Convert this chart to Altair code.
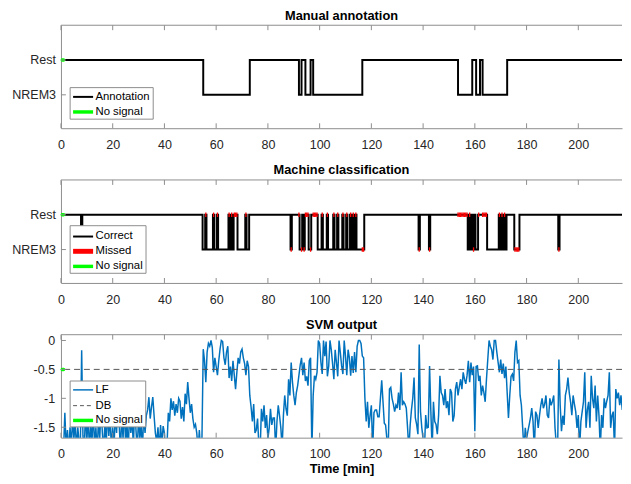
import math
import altair as alt
import pandas as pd

# ------------------------------------------------------------------ data
x_ticks = [0, 20, 40, 60, 80, 100, 120, 140, 160, 180, 200]
state_codes = [0, 1]
state_labels = ["NREM3", "Rest"]
svm_ticks = [-1.5, -1.0, -0.5, 0.0]
panel_titles = ["Manual annotation", "Machine classification", "SVM output"]
x_title = "Time [min]"

# manual annotation: change points (min) and state (1 = Rest, 0 = NREM3)
annotation_change_min = [0.0, 55.0, 73.0, 92.0, 93.0, 94.5, 96.5, 97.5, 116.5,
                         153.5, 159.0, 160.5, 162.0, 163.0, 172.5]
annotation_change_state = [1, 0, 1, 0, 1, 0, 1, 0, 1, 0, 1, 0, 1, 0, 1]

# SVM output (LF), one value per 30 s epoch starting at 0.5 min
svm_lf = [
    float("nan"), -1.9, -1.25, -1.85, -1.55, -1.95, -1.5, -1.8, -1.35, -1.7,
    -1.4, -1.9, -1.5, -1.75, -1.8, -0.17, -1.65, -1.9, -1.2, -1.75,
    -1.3, -1.9, -1.45, -1.75, -1.2, -1.85, -1.5, -1.95, -1.35, -1.7,
    -1.1, -1.6, -1.9, -1.4, -1.8, -1.2, -1.65, -1.3, -1.9, -1.5,
    -1.85, -1.25, -1.6, -1.0, -1.45, -1.9, -1.3, -1.7, -1.15, -1.8,
    -1.4, -1.95, -1.2, -1.6, -1.35, -1.85, -1.1, -1.55, -1.9, -1.3,
    -1.7, -1.45, -1.9, -1.25, -1.6, -1.3, -1.2, -0.98, -1.35, -1.15,
    -0.98, -1.3, -1.6, -1.75, -1.5, -1.9, -1.46, -1.8, -1.48, -1.6,
    -1.95, -1.8, -1.25, -1.4, -1.0, -1.2, -1.05, -1.3, -1.1, -1.25,
    -1.0, -1.05, -1.35, -1.15, -1.4, -0.92, -1.1, -0.72, -1.0, -1.25,
    -1.1, -1.35, -1.5, -1.45, -1.6, -1.9, -1.55, -1.95, -1.7, -0.15,
    -0.35, -0.72, -0.2, -0.05, -0.1, 0.0, -0.12, -0.55, -0.3, -0.45,
    -0.6, -0.35, -0.15, 0.0, -0.02, -0.3, -0.42, -0.2, -0.1, -0.65,
    -0.45, -0.7, -0.35, -0.6, -0.84, -0.55, -0.3, -0.4, -0.2, -0.15,
    -0.3, -0.4, -0.6, -0.35, -0.45, -0.95, -1.15, -1.4, -1.1, -1.6,
    -1.55, -1.35, -1.8, -1.9, -1.18, -1.4, -1.12, -1.51, -1.29, -1.7,
    -1.51, -1.18, -1.46, -1.34, -1.34, -1.9, -1.4, -1.12, -1.3, -1.51,
    -1.85, -1.29, -0.95, -1.18, -1.3, -0.67, -0.95, -0.38, -0.72, -0.95,
    -1.12, -0.9, -0.78, -0.6, -0.42, -0.3, -0.6, -0.38, -0.7, -0.62,
    -0.78, -0.35, -0.3, -1.9, -0.95, -0.61, -0.67, -0.55, 0.0, -0.05,
    -0.38, -0.58, 0.0, -0.27, -0.02, -0.62, -0.45, 0.0, -0.16, -0.4,
    -0.67, -0.16, -0.38, -0.62, 0.0, -0.21, -0.44, -0.58, 0.0, -0.27,
    -0.6, -0.16, -0.3, -0.61, -0.27, -0.56, -0.2, -0.55, -0.1, 0.0,
    0.0, -0.05, -0.27, -0.3, -1.0, -1.4, -1.06, -1.51, -1.3, -1.12,
    -1.9, -1.25, -1.2, -1.2, -1.32, -1.32, -1.0, -0.69, -1.06, -1.43,
    -1.46, -1.7, -1.9, -0.84, -0.81, -1.0, -1.1, -1.23, -1.12, -1.17,
    -0.9, -1.2, -0.55, -1.12, -1.06, -1.1, -1.17, -1.51, -1.9, -1.46,
    -1.2, -1.0, -0.64, -1.34, -1.45, -1.62, -0.07, -1.23, -1.51, -1.7,
    -1.9, -1.29, -1.51, -1.5, -0.44, -1.23, -1.9, -1.06, -1.4, -1.45,
    -1.62, -1.29, -0.61, -0.9, -0.95, -1.12, -0.84, -1.17, -1.05, -1.29,
    -0.84, -0.9, -1.4, -1.3, -0.84, -0.72, -0.95, -0.8, -0.67, -0.84,
    -0.55, -0.67, -0.75, -0.6, -0.35, -0.72, -0.38, -0.6, -0.45, -1.57,
    -0.45, -0.44, -0.7, -0.61, -0.95, -0.78, -0.9, -1.06, -0.67, -0.33,
    0.0, -0.1, -0.16, -0.33, 0.0, 0.0, -0.2, -0.38, -0.55, -0.33,
    -0.58, -0.4, -0.65, -0.45, -0.9, -1.34, -0.95, -0.62, -0.58, -0.7,
    -0.2, 0.0, -0.38, -0.35, -0.95, -1.12, -1.51, -1.9, -1.51, -1.7,
    -1.57, -1.46, -1.34, -1.17, -1.4, -1.9, -1.23, -1.29, -1.51, -1.3,
    -1.12, -1.0, -1.17, -1.1, -0.95, -1.29, -1.34, -1.0, -1.12, -1.05,
    -0.95, -1.51, -1.8, -1.9, -0.33, -1.12, -1.57, -1.3, -1.46, -0.95,
    -0.84, -0.64, -0.9, -1.06, -1.29, -0.95, -1.1, -1.23, -1.51, -1.29,
    -1.9, -1.4, -1.23, -1.06, -0.55, -1.51, -1.2, -1.06, -1.51, -0.61,
    -1.0, -1.17, -0.78, -1.4, -0.95, -1.3, -1.9, -1.29, -1.51, -1.0,
    -1.17, -1.05, -0.95, -0.55, -1.51, -1.3, -1.23, -1.9, -0.84, -1.0,
    -0.9, -1.12, -0.95, -1.2,
]
EPOCH_MIN = 0.5
decision_boundary = [-0.5]
no_signal_min = [0.5, 1.0]

# ------------------------------------------------------------------ style
FONT = "Liberation Sans"
AXC = "#8c8c8c"
TXT = "#262626"
X_MAX = 216.9
W = 569.3
H = 104.5
TICK = 5

# ------------------------------------------------------------------ derived tables
epoch_t = [EPOCH_MIN * (i + 1) for i in range(len(svm_lf))]
svm_df = pd.DataFrame({"t": epoch_t, "v": svm_lf}).dropna()


def annotation_at(tt):
    s = annotation_change_state[0]
    for ct, cs in zip(annotation_change_min, annotation_change_state):
        if ct <= tt:
            s = cs
    return s


ann_df = pd.DataFrame({
    "t": annotation_change_min + [X_MAX + 1],
    "s": annotation_change_state + [annotation_change_state[-1]],
})

mach_t, mach_s, miss_t0, miss_t1, miss_s = [0.0], [1], [], [], []
for tt, v in zip(epoch_t, svm_lf):
    if isinstance(v, float) and math.isnan(v):
        s = 1
    else:
        s = 0 if v > decision_boundary[0] else 1
        if s != annotation_at(tt):
            miss_t0.append(tt - EPOCH_MIN / 2)
            miss_t1.append(tt + EPOCH_MIN / 2)
            miss_s.append(s)
    mach_t.append(tt)
    mach_s.append(s)
mach_t.append(X_MAX + 1)
mach_s.append(mach_s[-1])
mach_df = pd.DataFrame({"t": mach_t, "s": mach_s})
miss_df = pd.DataFrame({"t0": miss_t0, "t1": miss_t1, "s": miss_s})

xt_df = pd.DataFrame({"t": x_ticks})
one = pd.DataFrame({"a": [0]})

x_scale = alt.Scale(domain=[0, X_MAX], nice=False, zero=False)
st_scale = alt.Scale(domain=[-0.96, 2.0], nice=False, zero=False)
svm_scale = alt.Scale(domain=[-1.68, 0.1], nice=False, zero=False)


def x_axis(title=None, pad=11.0):
    return alt.Axis(values=x_ticks, ticks=False, grid=False, labelPadding=pad,
                    labelFlush=False, labelExpr="'' + datum.value",
                    labelFont=FONT, labelFontSize=12.7, labelColor=TXT,
                    domainColor=AXC, title=title, titleFont=FONT,
                    titleFontSize=13, titleFontWeight="bold", titleColor="black",
                    titlePadding=2)


STATE_AXIS = alt.Axis(values=state_codes, ticks=False, grid=False, labelPadding=5.5,
                      labelExpr=f"datum.value == 1 ? '{state_labels[1]}\u00a0' : '{state_labels[0]}'",
                      labelFont=FONT, labelFontSize=12.7, labelColor=TXT,
                      domainColor=AXC, title=None)
SVM_AXIS = alt.Axis(values=svm_ticks, ticks=False, grid=False, labelPadding=6.4,
                    labelExpr="'' + datum.value", labelFont=FONT,
                    labelFontSize=12.7, labelColor=TXT, domainColor=AXC, title=None)


def panel(data_layers, yscale, yaxis, yvals, xa, legend_box, legend_items, ttl):
    def X(field):
        return alt.X(field, scale=x_scale, axis=xa)

    def Y(field):
        return alt.Y(field, scale=yscale, axis=yaxis)

    layers = [f(X, Y) for f in data_layers]
    # box top border and inward tick marks
    layers.append(alt.Chart(one).mark_rule(color=AXC, strokeWidth=1).encode(
        x=alt.value(0), x2=alt.value(W), y=alt.value(0)))
    layers.append(alt.Chart(xt_df).mark_rule(color=AXC, strokeWidth=1).encode(
        x=X("t:Q"), y=alt.value(0), y2=alt.value(TICK)))
    layers.append(alt.Chart(xt_df).mark_rule(color=AXC, strokeWidth=1).encode(
        x=X("t:Q"), y=alt.value(H - TICK), y2=alt.value(H)))
    layers.append(alt.Chart(pd.DataFrame({"v": yvals})).mark_rule(color=AXC, strokeWidth=1).encode(
        y=Y("v:Q"), x=alt.value(0), x2=alt.value(TICK)))
    # legend
    x0, x1, y0, y1 = legend_box
    layers.append(alt.Chart(one).mark_rect(fill="white", stroke=AXC, strokeWidth=1).encode(
        x=alt.value(x0), x2=alt.value(x1), y=alt.value(y0), y2=alt.value(y1)))
    for label, color, width, dash, y in legend_items:
        kw = dict(color=color, strokeWidth=width)
        if dash:
            kw["strokeDash"] = dash
        layers.append(alt.Chart(one).mark_rule(**kw).encode(
            x=alt.value(12.3), x2=alt.value(32.6), y=alt.value(y)))
        layers.append(alt.Chart(one).mark_text(
            text=label, align="left", baseline="middle", font=FONT, fontSize=11.5,
            color="black").encode(x=alt.value(35), y=alt.value(y)))
    # panel title
    layers.append(alt.Chart(one).mark_text(
        text=ttl, align="center", baseline="alphabetic", font=FONT, fontSize=13,
        fontWeight="bold", color="black").encode(x=alt.value(W / 2), y=alt.value(-5.7)))
    return alt.layer(*layers).properties(width=W, height=H)


ns_state_df = pd.DataFrame({"t0": [no_signal_min[0]], "t1": [no_signal_min[1]], "s": [1]})
ns_svm_df = pd.DataFrame({"t0": [no_signal_min[0]], "t1": [no_signal_min[1]], "v": decision_boundary})

# ------------------------------------------------------------------ panel 1
p1 = panel(
    [
        lambda X, Y: alt.Chart(ann_df).mark_line(interpolate="step-after", color="black",
                                                  strokeWidth=2, clip=True).encode(x=X("t:Q"), y=Y("s:Q")),
        lambda X, Y: alt.Chart(ns_state_df).mark_rule(color="#00ff00", strokeWidth=3.5, strokeCap="round").encode(
            x=X("t0:Q"), x2="t1:Q", y=Y("s:Q")),
    ],
    st_scale, STATE_AXIS, state_codes, x_axis(None, 11.0),
    (9.3, 93.6, 63.3, 95.3),
    [("Annotation", "black", 2, None, 72.7), ("No signal", "#00ff00", 3.5, None, 88.0)],
    panel_titles[0],
)

# ------------------------------------------------------------------ panel 2
p2 = panel(
    [
        lambda X, Y: alt.Chart(mach_df).mark_line(interpolate="step", color="black",
                                                   strokeWidth=2, clip=True).encode(x=X("t:Q"), y=Y("s:Q")),
        lambda X, Y: alt.Chart(miss_df).mark_rule(color="#ff0000", strokeWidth=4.5, clip=True).encode(
            x=X("t0:Q"), x2="t1:Q", y=Y("s:Q")),
        lambda X, Y: alt.Chart(ns_state_df).mark_rule(color="#00ff00", strokeWidth=3.5, strokeCap="round").encode(
            x=X("t0:Q"), x2="t1:Q", y=Y("s:Q")),
    ],
    st_scale, STATE_AXIS, state_codes, x_axis(None, 11.0),
    (9.3, 86.3, 46.4, 94.7),
    [("Correct", "black", 2, None, 57.4), ("Missed", "#ff0000", 5, None, 72.4),
     ("No signal", "#00ff00", 3.5, None, 87.7)],
    panel_titles[1],
)

# ------------------------------------------------------------------ panel 3
p3 = panel(
    [
        lambda X, Y: alt.Chart(svm_df).mark_line(color="#0072bd", strokeWidth=1.5, clip=True).encode(
            x=X("t:Q"), y=Y("v:Q")),
        lambda X, Y: alt.Chart(pd.DataFrame({"v": decision_boundary})).mark_rule(
            color="#555555", strokeWidth=1, strokeDash=[6, 4]).encode(y=Y("v:Q")),
        lambda X, Y: alt.Chart(ns_svm_df).mark_rule(color="#00ff00", strokeWidth=3.5, strokeCap="round").encode(
            x=X("t0:Q"), x2="t1:Q", y=Y("v:Q")),
    ],
    svm_scale, SVM_AXIS, svm_ticks, x_axis(x_title, 10.2),
    (9.3, 86.0, 47.0, 93.6),
    [("LF", "#0072bd", 1.5, None, 56.0), ("DB", "#555555", 1, [4, 3], 72.0),
     ("No signal", "#00ff00", 3.5, None, 87.0)],
    panel_titles[2],
)

chart = alt.vconcat(p1, p2, p3, spacing=52.0, bounds="flush").properties(
    padding={"left": 3.75, "top": -2, "right": 0, "bottom": 4},
).configure_view(stroke=None)

chart.save("out.html", embed_options={"renderer": "svg", "actions": False})
